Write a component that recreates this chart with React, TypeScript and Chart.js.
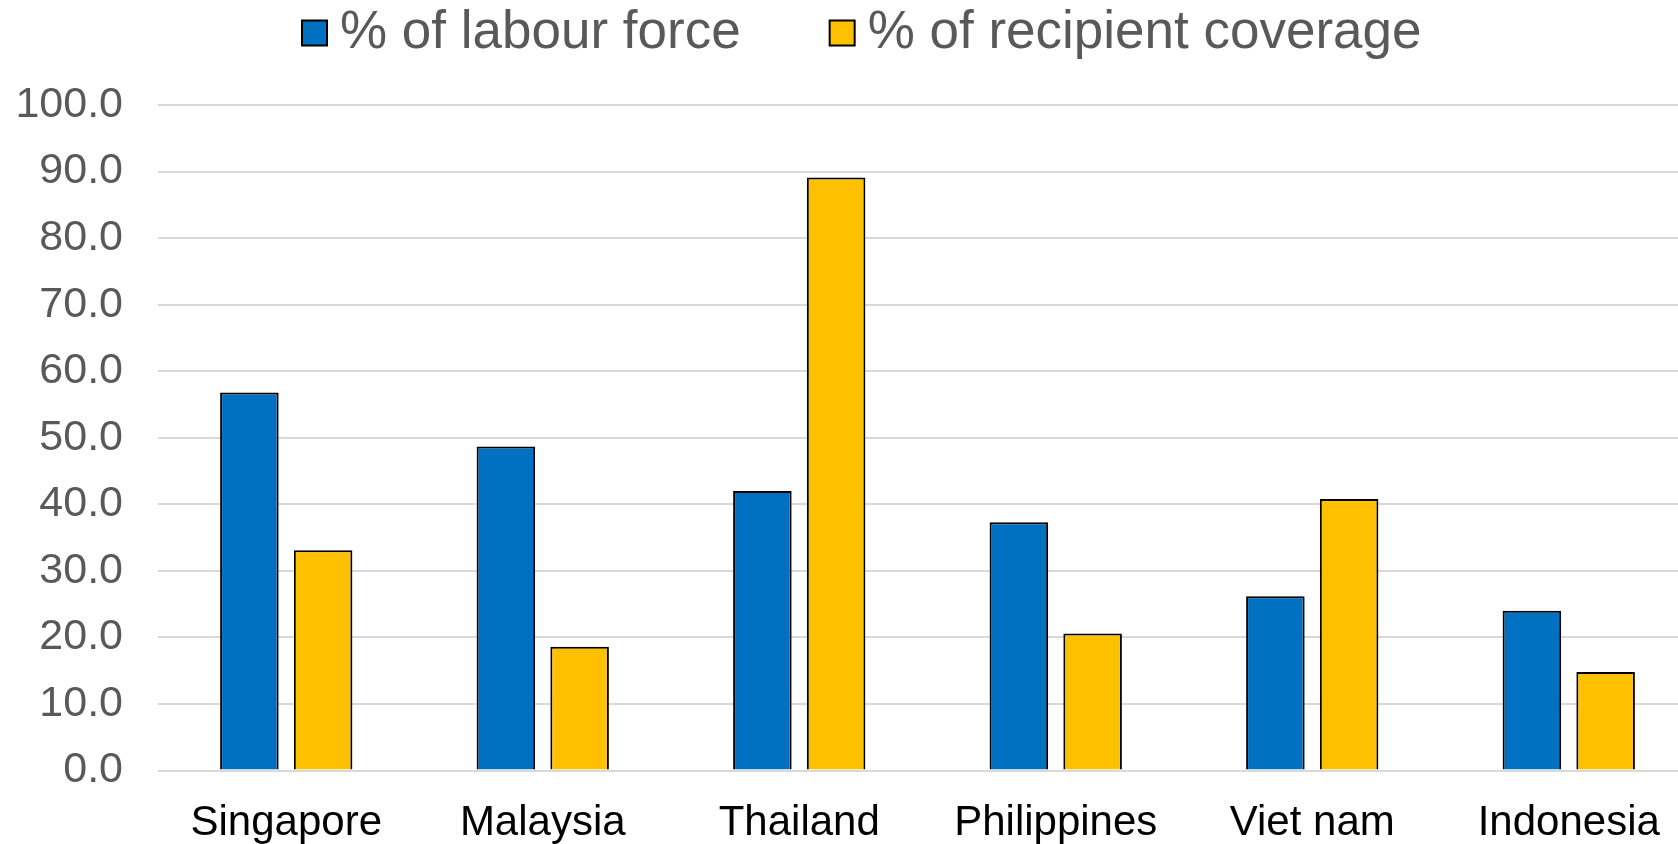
import React, { useEffect, useRef } from "react";
import { Chart, registerables } from "chart.js";

Chart.register(...registerables);

const countries = ["Singapore", "Malaysia", "Thailand", "Philippines", "Viet nam", "Indonesia"];
const labourForce = [56.8, 48.7, 42.0, 37.3, 26.2, 24.0];
const recipientCoverage = [33.1, 18.6, 89.1, 20.6, 40.8, 14.8];
const seriesNames = ["% of labour force", "% of recipient coverage"];
const seriesColors = ["#0070C0", "#FFC000"];

const W = 1678;
const H = 844;
// the plot area runs a little past the visible right edge
const CANVAS_W = 1697;

// Legend drawn above the plot: small outlined squares followed by grey text
const topLegend = {
  id: "topLegend",
  afterDraw(chart: any) {
    const ctx = chart.ctx;
    const font = "53px 'Liberation Sans', Arial, sans-serif";
    const box = 25;
    const textGap = 13;
    const itemGap = 89;
    const cy = 33;
    ctx.save();
    ctx.font = font;
    let x = 302;
    chart.data.datasets.forEach((ds: any) => {
      ctx.fillStyle = ds.backgroundColor;
      ctx.strokeStyle = "#000";
      ctx.lineWidth = 2;
      ctx.fillRect(x, cy - box / 2, box, box);
      ctx.strokeRect(x, cy - box / 2, box, box);
      x += box + textGap;
      ctx.fillStyle = "#595959";
      ctx.textAlign = "left";
      ctx.textBaseline = "middle";
      ctx.fillText(ds.label, x, cy);
      x += ctx.measureText(ds.label).width + itemGap;
    });
    ctx.restore();
  },
};

export default function App() {
  const canvasRef = useRef<HTMLCanvasElement | null>(null);

  useEffect(() => {
    if (!canvasRef.current) return;
    const chart = new Chart(canvasRef.current, {
      type: "bar",
      data: {
        labels: countries,
        datasets: [
          {
            label: seriesNames[0],
            data: labourForce,
            backgroundColor: seriesColors[0],
            borderColor: "#000",
            borderWidth: 2,
            categoryPercentage: 0.575,
            barPercentage: 0.794,
          },
          {
            label: seriesNames[1],
            data: recipientCoverage,
            backgroundColor: seriesColors[1],
            borderColor: "#000",
            borderWidth: 2,
            categoryPercentage: 0.575,
            barPercentage: 0.794,
          },
        ],
      },
      options: {
        responsive: false,
        animation: false,
        layout: { padding: { top: 105, right: 0, bottom: 0, left: 0 } },
        plugins: {
          legend: { display: false },
          tooltip: { enabled: false },
        },
        scales: {
          x: {
            grid: { display: false, drawTicks: false },
            border: { display: false },
            ticks: {
              color: "#000",
              padding: 28,
              font: { family: "'Liberation Sans', Arial, sans-serif", size: 42 },
            },
            afterFit: (scale: any) => {
              scale.height = 73.5;
            },
          },
          y: {
            min: 0,
            max: 100,
            grid: { color: "#d9d9d9", lineWidth: 2, drawTicks: false },
            border: { display: false },
            ticks: {
              stepSize: 10,
              color: "#595959",
              padding: 35,
              font: { family: "'Liberation Sans', Arial, sans-serif", size: 43 },
              callback: (v: any) => Number(v).toFixed(1),
            },
            afterFit: (scale: any) => {
              scale.width = 158;
            },
          },
        },
      },
      plugins: [topLegend],
    });
    return () => chart.destroy();
  }, []);

  return (
    <div style={{ position: "absolute", left: 0, top: 0, width: W, height: H, background: "#fff", overflow: "hidden" }}>
      <canvas ref={canvasRef} width={CANVAS_W} height={H} style={{ display: "block" }} />
    </div>
  );
}
